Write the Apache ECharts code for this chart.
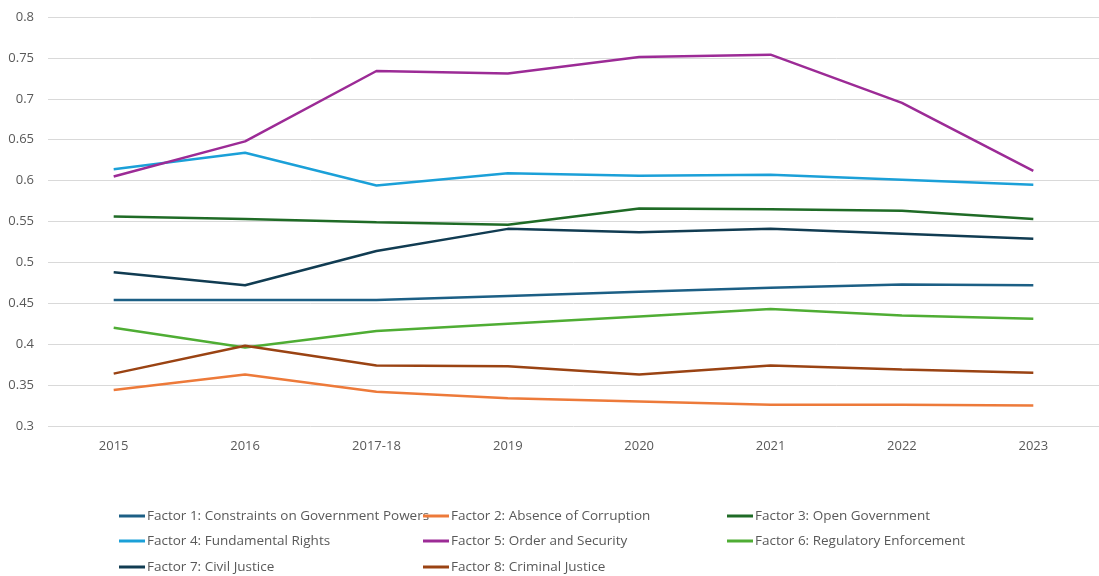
<!DOCTYPE html>
<html>
<head>
<meta charset="utf-8">
<script src="https://cdn.jsdelivr.net/npm/echarts@6/dist/echarts.min.js"></script>
<style>
  html, body { margin: 0; padding: 0; background: #ffffff; }
  #chart { width: 1099px; height: 576px; }
</style>
</head>
<body>
<div id="chart"></div>
<script>
// Survey years shown on the category axis
const years = ['2015', '2016', '2017-18', '2019', '2020', '2021', '2022', '2023'];

// Factor scores per year
const factor1 = [0.454, 0.454, 0.454, 0.459, 0.464, 0.469, 0.473, 0.472];
const factor2 = [0.344, 0.363, 0.342, 0.334, 0.330, 0.326, 0.326, 0.325];
const factor3 = [0.556, 0.553, 0.549, 0.546, 0.566, 0.565, 0.563, 0.553];
const factor4 = [0.614, 0.634, 0.594, 0.609, 0.606, 0.607, 0.601, 0.595];
const factor5 = [0.605, 0.648, 0.734, 0.731, 0.751, 0.754, 0.695, 0.612];
const factor6 = [0.420, 0.396, 0.416, 0.425, 0.434, 0.443, 0.435, 0.431];
const factor7 = [0.488, 0.472, 0.514, 0.541, 0.537, 0.541, 0.535, 0.529];
const factor8 = [0.364, 0.398, 0.374, 0.373, 0.363, 0.374, 0.369, 0.365];

const names = [
  'Factor 1: Constraints on Government Powers',
  'Factor 2: Absence of Corruption',
  'Factor 3: Open Government',
  'Factor 4: Fundamental Rights',
  'Factor 5: Order and Security',
  'Factor 6: Regulatory Enforcement',
  'Factor 7: Civil Justice',
  'Factor 8: Criminal Justice'
];
const values = [factor1, factor2, factor3, factor4, factor5, factor6, factor7, factor8];
const colors = ['#1c5f85', '#ed7a3a', '#1f6b26', '#1ba0d8', '#9c2b96', '#4fad34', '#113c52', '#9a4313'];

const font = '"Open Sans", "Noto Sans", sans-serif';
const textColor = '#595959';

// Legend laid out as a 3-column grid, one legend component per entry
const legendCols = [119, 423, 727];
const legendRows = [509, 534, 560];

function legendItem(i) {
  return {
    orient: 'horizontal',
    left: legendCols[i % 3],
    top: legendRows[Math.floor(i / 3)],
    padding: 0,
    itemWidth: 26,
    itemHeight: 3,
    icon: 'rect',
    data: [names[i]],
    textStyle: { fontFamily: font, fontSize: 13.5, color: textColor, padding: [0, 0, 0, -3] }
  };
}

const chart = echarts.init(document.getElementById('chart'), null, { renderer: 'canvas' });
chart.setOption({
  animation: false,
  color: colors,
  grid: { left: 48, right: -8, top: 17, bottom: 150, containLabel: false },
  legend: names.map((n, i) => legendItem(i)),
  xAxis: {
    type: 'category',
    data: years,
    boundaryGap: true,
    axisLine: { show: false },
    axisTick: { show: false },
    axisLabel: { color: textColor, fontFamily: font, fontSize: 13, margin: 14 }
  },
  yAxis: {
    type: 'value',
    min: 0.3,
    max: 0.8,
    interval: 0.05,
    axisLine: { show: false },
    axisTick: { show: false },
    axisLabel: {
      color: textColor, fontFamily: font, fontSize: 13, margin: 14,
      formatter: v => String(parseFloat(v.toFixed(2)))
    },
    splitLine: { lineStyle: { color: '#d9d9d9', width: 1 } }
  },
  series: names.map((n, i) => ({
    name: n,
    type: 'line',
    data: values[i],
    showSymbol: false,
    symbol: 'none',
    lineStyle: { width: 2.5, color: colors[i] },
    itemStyle: { color: colors[i] }
  }))
});
</script>
</body>
</html>
